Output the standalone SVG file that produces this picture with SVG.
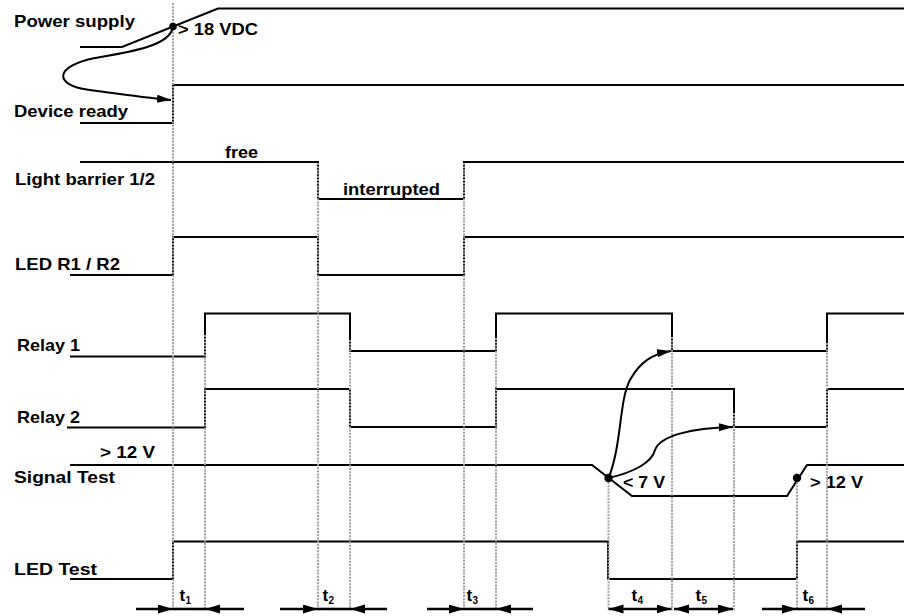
<svg xmlns="http://www.w3.org/2000/svg" width="904" height="616" viewBox="0 0 904 616">
<defs>
<style>
.sig{fill:none;stroke:#000;stroke-width:2;stroke-linejoin:miter}
.grid{fill:none;stroke:#a0a0a0;stroke-width:2;stroke-dasharray:2 1.2}
.con{fill:none;stroke:#000;stroke-width:2}
.dim{fill:none;stroke:#000;stroke-width:2.6}
.lbl{font-family:"Liberation Sans",Arial,Helvetica,sans-serif;font-weight:bold;font-size:16.5px;fill:#000}
.tl{font-family:"Liberation Sans",Arial,Helvetica,sans-serif;font-weight:bold;font-size:17px;fill:#000}
.ts{font-family:"Liberation Sans",Arial,Helvetica,sans-serif;font-weight:bold;font-size:10px;fill:#000}
</style>
<marker id="ah" markerUnits="userSpaceOnUse" markerWidth="16" markerHeight="10" refX="15" refY="4.5" orient="auto-start-reverse">
<path d="M0,0 L15,4.5 L0,9 z" fill="#000"/>
</marker>
<marker id="ah2" markerUnits="userSpaceOnUse" markerWidth="15" markerHeight="10" refX="14" refY="4" orient="auto">
<path d="M0,0 L14,4 L0,8 z" fill="#000"/>
</marker>
</defs>
<rect width="904" height="616" fill="#fff"/>

<g id="power-supply">
<path class="sig" d="M80,47 L122,47 L218,8.5 L904,8.5"/>
<text class="lbl" x="14" y="27" textLength="121" lengthAdjust="spacingAndGlyphs">Power supply</text>
<text class="lbl" x="178" y="35" textLength="80" lengthAdjust="spacingAndGlyphs">&gt; 18 VDC</text>
</g>
<g id="device-ready">
<path class="sig" d="M80,123 L173,123 L173,85 L904,85"/>
<text class="lbl" x="14" y="117" textLength="114" lengthAdjust="spacingAndGlyphs">Device ready</text>
</g>
<g id="light-barrier">
<path class="sig" d="M80,162 L318,162 L318,199 L464,199 L464,162 L904,162"/>
<text class="lbl" x="15" y="185" textLength="140" lengthAdjust="spacingAndGlyphs">Light barrier 1/2</text>
<text class="lbl" x="225" y="158" textLength="33" lengthAdjust="spacingAndGlyphs">free</text>
<text class="lbl" x="343" y="195" textLength="97" lengthAdjust="spacingAndGlyphs">interrupted</text>
</g>
<g id="led-r1-r2">
<path class="sig" d="M70,275 L173,275 L173,237 L318,237 L318,275 L464,275 L464,237 L904,237"/>
<text class="lbl" x="15" y="270" textLength="105" lengthAdjust="spacingAndGlyphs">LED R1 / R2</text>
</g>
<g id="relay-1">
<path class="sig" d="M70,356.5 L205,356.5 L205,313.5 L350,313.5 L350,351 L496,351 L496,313.5 L672,313.5 L672,351 L827,351 L827,313.5 L904,313.5"/>
<text class="lbl" x="17" y="351" textLength="63" lengthAdjust="spacingAndGlyphs">Relay 1</text>
</g>
<g id="relay-2">
<path class="sig" d="M67,427.5 L205,427.5 L205,389 L350,389 L350,427 L496,427 L496,389 L734,389 L734,427 L827,427 L827,389 L904,389"/>
<text class="lbl" x="17" y="423" textLength="63" lengthAdjust="spacingAndGlyphs">Relay 2</text>
</g>
<g id="signal-test">
<path class="sig" d="M70,465 L592,465 L632,496 L787,496 L807,465 L904,465"/>
<text class="lbl" x="100" y="458" textLength="55" lengthAdjust="spacingAndGlyphs">&gt; 12 V</text>
<text class="lbl" x="14" y="483" textLength="101" lengthAdjust="spacingAndGlyphs">Signal Test</text>
<text class="lbl" x="623" y="488" textLength="42" lengthAdjust="spacingAndGlyphs">&lt; 7 V</text>
<text class="lbl" x="810" y="488" textLength="53" lengthAdjust="spacingAndGlyphs">&gt; 12 V</text>
</g>
<g id="led-test">
<path class="sig" d="M70,579 L173,579 L173,541.5 L608,541.5 L608,579 L797,579 L797,541.5 L904,541.5"/>
<text class="lbl" x="14" y="575" textLength="83" lengthAdjust="spacingAndGlyphs">LED Test</text>
</g>

<g id="timing-grid">
<line class="grid" x1="173" y1="3" x2="173" y2="610"/>
<line class="grid" x1="205" y1="335" x2="205" y2="610"/>
<line class="grid" x1="318" y1="163" x2="318" y2="610"/>
<line class="grid" x1="350" y1="340" x2="350" y2="610"/>
<line class="grid" x1="464" y1="163" x2="464" y2="610"/>
<line class="grid" x1="496" y1="338" x2="496" y2="610"/>
<line class="grid" x1="608.5" y1="482" x2="608.5" y2="610"/>
<line class="grid" x1="672" y1="337" x2="672" y2="610"/>
<line class="grid" x1="734" y1="413" x2="734" y2="610"/>
<line class="grid" x1="797" y1="482" x2="797" y2="610"/>
<line class="grid" x1="827" y1="343" x2="827" y2="610"/>
</g>

<g id="connectors">
<path class="con" d="M173,27 C170,46 130,52 95,58 C55,66 52,85 90,90 C120,94 140,97 171,100" marker-end="url(#ah2)"/>
<path class="con" d="M608.5,478 C622,445 619,400 630,380 C640,362 652,354 671,351" marker-end="url(#ah2)"/>
<path class="con" d="M608.5,478 C635,472 652,462 655,450 C660,436 690,428 733,427" marker-end="url(#ah2)"/>
<circle cx="173" cy="26.5" r="3.8" fill="#000"/>
<circle cx="608.5" cy="478" r="4.2" fill="#000"/>
<circle cx="797" cy="478" r="4.2" fill="#000"/>

<path class="dim" d="M136,609 L173,609" marker-end="url(#ah)"/>
<path class="dim" d="M173,609 L205,609"/>
<path class="dim" d="M244,609 L205,609" marker-end="url(#ah)"/>
<path class="dim" d="M280,609 L318,609" marker-end="url(#ah)"/>
<path class="dim" d="M318,609 L350,609"/>
<path class="dim" d="M387,609 L350,609" marker-end="url(#ah)"/>
<path class="dim" d="M427,609 L464,609" marker-end="url(#ah)"/>
<path class="dim" d="M464,609 L496,609"/>
<path class="dim" d="M533,609 L496,609" marker-end="url(#ah)"/>
<path class="dim" d="M608.5,609 L671.5,609" marker-start="url(#ah)" marker-end="url(#ah)"/>
<path class="dim" d="M674,609 L733,609" marker-start="url(#ah)" marker-end="url(#ah)"/>
<path class="dim" d="M762,609 L797,609" marker-end="url(#ah)"/>
<path class="dim" d="M797,609 L827,609"/>
<path class="dim" d="M865,609 L827,609" marker-end="url(#ah)"/>
</g>

<g id="interval-labels">
<text class="tl" x="179.5" y="601">t</text><text class="ts" x="185.5" y="604">1</text>
<text class="tl" x="322.5" y="601">t</text><text class="ts" x="328.5" y="604">2</text>
<text class="tl" x="466.5" y="601">t</text><text class="ts" x="472.5" y="604">3</text>
<text class="tl" x="631.5" y="601">t</text><text class="ts" x="637.5" y="604">4</text>
<text class="tl" x="695.5" y="601">t</text><text class="ts" x="701.5" y="604">5</text>
<text class="tl" x="802.5" y="601">t</text><text class="ts" x="808.5" y="604">6</text>
</g>
</svg>
